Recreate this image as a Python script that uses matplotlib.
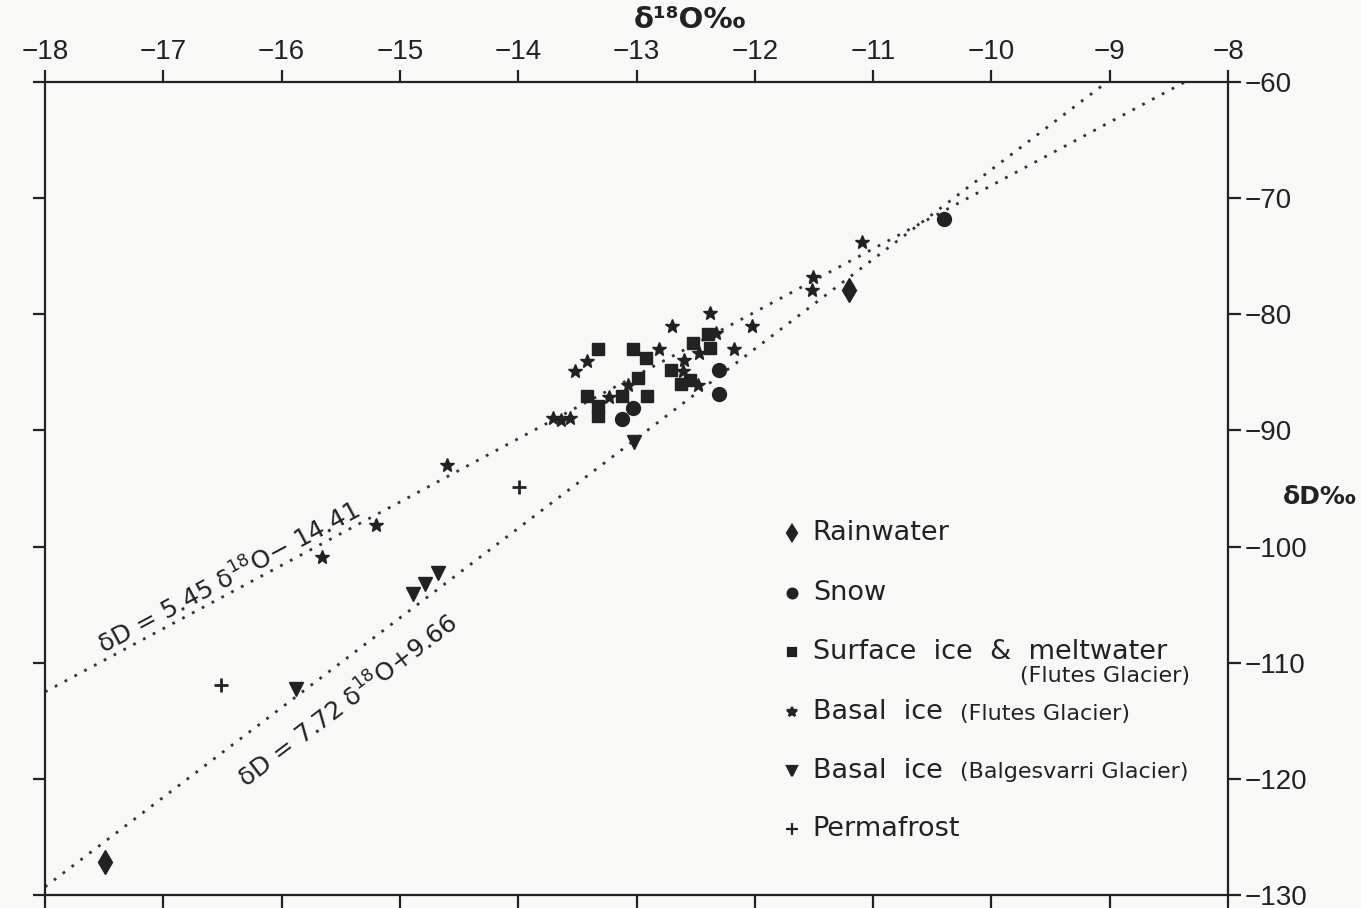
import numpy as np
import matplotlib
matplotlib.use("Agg")
import matplotlib.pyplot as plt

# delta-18O (x) and delta-D (y) per sample group
rain_x = [-11.20, -17.49]
rain_y = [-77.9, -127.2]

snow_x = [-10.40, -12.30, -12.30, -13.03, -13.12]
snow_y = [-71.8, -84.8, -86.9, -88.1, -89.0]

surf_x = [-13.33, -13.03, -12.92, -12.71, -12.99, -13.42, -13.12, -12.91,
          -13.33, -13.33, -12.62, -12.55, -12.52, -12.40, -12.38]
surf_y = [-83.0, -83.0, -83.8, -84.8, -85.5, -87.0, -87.0, -87.0,
          -87.9, -88.8, -86.0, -85.7, -82.5, -81.7, -82.9]

basal_fl_x = [-13.52, -13.42, -13.71, -13.64, -13.56, -13.23, -13.07, -12.81,
              -12.70, -12.60, -12.61, -12.47, -12.48, -12.38, -12.02, -12.18,
              -12.33, -11.09, -11.51, -11.52, -14.60, -15.20, -15.66]
basal_fl_y = [-84.9, -84.0, -88.9, -89.1, -88.9, -87.1, -86.1, -83.0,
              -81.0, -83.9, -84.9, -83.3, -86.1, -79.9, -81.0, -83.0,
              -81.6, -73.8, -76.8, -77.9, -93.0, -98.1, -100.9]

basal_bg_x = [-13.02, -14.68, -14.79, -14.89, -15.88]
basal_bg_y = [-91.0, -102.3, -103.2, -104.1, -112.3]

perma_x = [-16.51, -13.99]
perma_y = [-111.9, -94.9]

# regression lines: slope, intercept, x range
fit1 = (5.45, -14.41, -18.0, -8.365)
fit2 = (7.72, 9.66, -18.0, -9.02)

ink = "#222222"
bg = "#f8f9f7"

fig = plt.figure(figsize=(13.61, 9.08), dpi=100, facecolor=bg)
ax = fig.add_axes([0.0331, 0.0143, 0.8692, 0.8954], facecolor=bg)

# fitted lines
for slope, icpt, x0, x1 in (fit1, fit2):
    xs = np.array([x0, x1])
    ax.plot(xs, slope * xs + icpt, color="#333333", lw=2.0,
            linestyle=(0, (1, 3)), zorder=1)

ax.plot(rain_x, rain_y, linestyle="none", marker="d", ms=12,
        mfc=ink, mec=ink, zorder=3)
ax.plot(snow_x, snow_y, linestyle="none", marker="o", ms=10,
        mfc=ink, mec=ink, zorder=3)
ax.plot(surf_x, surf_y, linestyle="none", marker="s", ms=8.5,
        mfc=ink, mec=ink, zorder=3)
ax.plot(basal_fl_x, basal_fl_y, linestyle="none", marker="*", ms=10,
        mfc=ink, mec=ink, zorder=3)
ax.plot(basal_bg_x, basal_bg_y, linestyle="none", marker="v", ms=9.5,
        mfc=ink, mec=ink, zorder=3)
ax.plot(perma_x, perma_y, linestyle="none", marker="+", ms=10, mew=2,
        mfc=ink, mec=ink, zorder=3)

ax.set_xlim(-18, -8)
ax.set_ylim(-130, -60)
ax.set_xticks(np.arange(-18, -7, 1))
ax.set_yticks(np.arange(-130, -59, 10))

for s in ax.spines.values():
    s.set_linewidth(1.6)
    s.set_color(ink)

ax.tick_params(axis="x", which="both", top=True, bottom=True,
               labeltop=True, labelbottom=False, direction="out",
               length=9, width=1.6, color=ink, pad=3)
ax.tick_params(axis="y", which="both", left=True, right=True,
               labelleft=False, labelright=True, direction="out",
               length=9, width=1.6, color=ink, pad=3)
for lab in ax.get_xticklabels() + ax.get_yticklabels():
    lab.set_fontfamily("Liberation Sans")
    lab.set_fontsize(20)
    lab.set_color(ink)

fig.text(0.507, 0.978, "δ¹⁸O‰", ha="center", va="center",
         fontsize=21, fontweight="semibold", color=ink, family="DejaVu Sans")
fig.text(0.997, 0.453, "δD‰", ha="right", va="center",
         fontsize=18, fontweight="semibold", color=ink, family="DejaVu Sans")

# equation labels along the lines
ax.text(-16.44, -102.7, "δD = 5.45 δ$^{18}$O− 14.41", ha="center",
        va="center", rotation=np.degrees(np.arctan(fit1[0])),
        transform_rotates_text=True, rotation_mode="anchor",
        fontsize=18, color=ink)
ax.text(-15.44, -113.3, "δD = 7.72 δ$^{18}$O+9.66", ha="center",
        va="center", rotation=np.degrees(np.arctan(fit2[0])),
        transform_rotates_text=True, rotation_mode="anchor",
        fontsize=18, color=ink)

# legend drawn by hand
legend_rows = [
    ("d", 8, "Rainwater", "", 0.445),
    ("o", 7, "Snow", "", 0.371),
    ("s", 6, "Surface  ice  &  meltwater", "", 0.299),
    ("*", 7, "Basal  ice  ", "(Flutes Glacier)", 0.225),
    ("v", 7, "Basal  ice  ", "(Balgesvarri Glacier)", 0.153),
    ("+", 8, "Permafrost", "", 0.081),
]
fig.canvas.draw()
renderer = fig.canvas.get_renderer()
for mk, ms, main, sub, yy in legend_rows:
    ax.plot([0.631], [yy], transform=ax.transAxes, marker=mk, ms=ms,
            mfc=ink, mec=ink, mew=1.6, linestyle="none", clip_on=False)
    t = ax.text(0.649, yy, main, transform=ax.transAxes, ha="left",
                va="center", fontsize=19.5, color=ink)
    if sub:
        bb = t.get_window_extent(renderer=renderer)
        x_ax = ax.transAxes.inverted().transform((bb.x1, bb.y0))[0]
        ax.text(x_ax, yy - 0.002, sub, transform=ax.transAxes, ha="left",
                va="center", fontsize=16, color=ink)
ax.text(0.968, 0.269, "(Flutes Glacier)", transform=ax.transAxes,
        ha="right", va="center", fontsize=16, color=ink)

fig.savefig("out.png", dpi=100, facecolor=bg)
